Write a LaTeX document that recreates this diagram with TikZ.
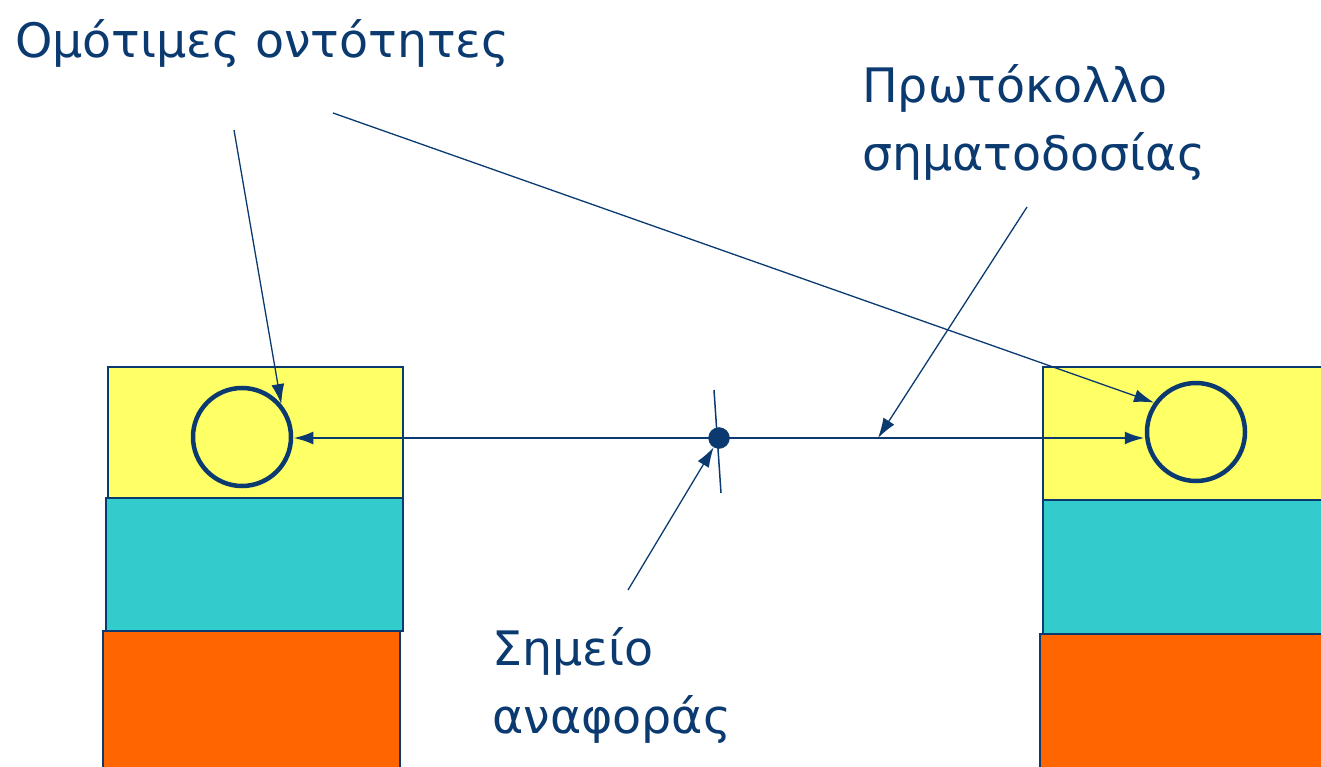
\documentclass[tikz,border=0pt]{standalone}
\usepackage{fontspec}
\setmainfont{DejaVu Sans}
\usetikzlibrary{arrows.meta}
\usetikzlibrary{positioning}
\definecolor{navy}{HTML}{0A3A70}
\definecolor{layA}{HTML}{FFFF66}
\definecolor{layB}{HTML}{33CCCC}
\definecolor{layC}{HTML}{FF6600}
\begin{document}
\begin{tikzpicture}[x=1pt, y=-1pt,
  every node/.style={text=navy, inner sep=0pt},
  layer/.style={draw=navy, line width=1.2pt},
  peer/.style={draw=navy, circle, line width=4.5pt, minimum size=98pt},
  ptr/.style={draw=navy, line width=1.3pt, -{Latex[length=20pt, width=13pt]}},
  lbl/.style={font=\fontsize{47.5}{68}\selectfont, align=left}]
\useasboundingbox (0,0) rectangle (1321,767);
% protocol stacks
\filldraw[layer, fill=layA] (108,367) rectangle (403,498);
\filldraw[layer, fill=layB] (106,498) rectangle (403,631);
\filldraw[layer, fill=layC] (103,631) rectangle (400,770);
\filldraw[layer, fill=layA] (1043,367) rectangle (1325,500);
\filldraw[layer, fill=layB] (1043,500) rectangle (1325,634);
\filldraw[layer, fill=layC] (1040,634) rectangle (1325,770);
% peer entities
\node[peer] (P1) at (242,437) {};
\node[peer] (P2) at (1196,432) {};
\node[draw=navy, fill=navy, circle, minimum size=21pt] (R) at (719,438) {};
\coordinate (T1) at (714,390);
\coordinate (T2) at (721,493);
\draw[navy, line width=1.5pt] (T1) -- (T2);
\draw[navy, line width=2.8pt, {Latex[length=20pt, width=13pt]}-{Latex[length=20pt, width=13pt]}] (P1.east |- R) -- (P2.west |- R);
% labels
\node[lbl, anchor=base west] (L1) at (15,58) {Ομότιμες οντότητες};
\node[lbl, anchor=north west] (L2) at (862,64) {Πρωτόκολλο\\σηματοδοσίας};
\node[lbl, anchor=north west] (L3) at (492,627) {Σημείο\\αναφοράς};
\coordinate (A1) at (234,130);
\coordinate (A2) at (333,113);
\coordinate (A3) at (1027,207);
\coordinate (A4) at (628,590);
\coordinate (M) at (878,438);
\draw[ptr] (A1) -- (P1.40);
\draw[ptr] (A2) -- (P2.145);
\draw[ptr] (A3) -- (M);
\draw[ptr] (A4) -- (R.240);
\end{tikzpicture}
\end{document}
